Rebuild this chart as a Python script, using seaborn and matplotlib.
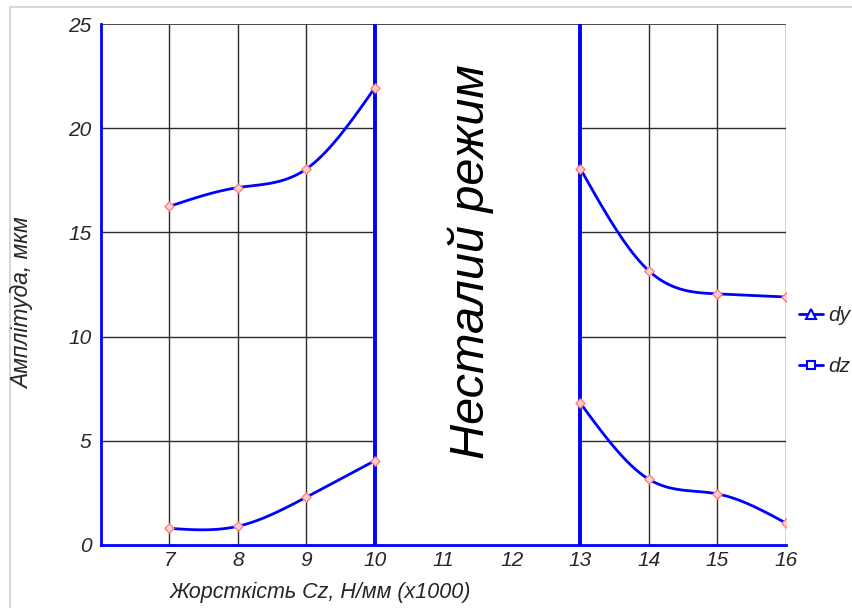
import numpy as np
import pandas as pd
import matplotlib
matplotlib.use("Agg")
import matplotlib.pyplot as plt
from matplotlib.lines import Line2D
from matplotlib.patches import Rectangle
import seaborn as sns

# ---- data ----
x_left = [7, 8, 9, 10]
x_right = [13, 14, 15, 16]
dy_left = [16.25, 17.15, 18.05, 21.95]
dy_right = [18.05, 13.15, 12.05, 11.9]
dz_left = [0.8, 0.9, 2.3, 4.05]
dz_right = [6.8, 3.15, 2.45, 1.05]
x_ticks = [7, 8, 9, 10, 11, 12, 13, 14, 15, 16]
y_ticks = [0, 5, 10, 15, 20, 25]
unstable_text = "Несталий режим"
x_label = "Жорсткість Cz, Н/мм (x1000)"
y_label = "Амплітуда, мкм"


def natural_spline(xs, ys, n=120):
    xs = np.asarray(xs, float)
    ys = np.asarray(ys, float)
    k = len(xs)
    h = np.diff(xs)
    A = np.zeros((k, k))
    b = np.zeros(k)
    A[0, 0] = A[-1, -1] = 1
    for i in range(1, k - 1):
        A[i, i - 1] = h[i - 1]
        A[i, i] = 2 * (h[i - 1] + h[i])
        A[i, i + 1] = h[i]
        b[i] = 6 * ((ys[i + 1] - ys[i]) / h[i] - (ys[i] - ys[i - 1]) / h[i - 1])
    M = np.linalg.solve(A, b)
    xx = np.linspace(xs[0], xs[-1], n)
    idx = np.clip(np.searchsorted(xs, xx) - 1, 0, k - 2)
    x0, x1 = xs[idx], xs[idx + 1]
    hh = x1 - x0
    t0, t1 = x1 - xx, xx - x0
    yy = (M[idx] * t0**3 / (6 * hh) + M[idx + 1] * t1**3 / (6 * hh)
          + (ys[idx] / hh - M[idx] * hh / 6) * t0
          + (ys[idx + 1] / hh - M[idx + 1] * hh / 6) * t1)
    return xx, yy


sns.set_style("white")
plt.rcParams["font.family"] = ["Liberation Sans", "DejaVu Sans"]

fig = plt.figure(figsize=(8.53, 6.08), dpi=100)
ax = fig.add_axes([101 / 853, 1 - 545 / 608, (786 - 101) / 853, (545 - 24) / 608])

blue = "#0000ff"
grid_c = "#2b2b2b"

# grid only in the stable regions
for y in [5, 10, 15, 20]:
    ax.hlines(y, 6, 10, color=grid_c, lw=1.0, zorder=1)
    ax.hlines(y, 13, 16, color=grid_c, lw=1.0, zorder=1)
ax.hlines(25, 6, 16, color=grid_c, lw=1.2, zorder=1)
for x in [7, 8, 9, 14, 15, 16]:
    ax.vlines(x, 0, 25, color=grid_c, lw=1.0, zorder=1)

# boundaries of the unstable region
ax.vlines([10, 13], 0, 25, color=blue, lw=2.8, zorder=3)

# curves
segments = [(x_left, dy_left), (x_right, dy_right), (x_left, dz_left), (x_right, dz_right)]
for xs, ys in segments:
    xx, yy = natural_spline(xs, ys)
    sns.lineplot(x=xx, y=yy, ax=ax, color=blue, lw=2.0, zorder=4, sort=False)
    sns.scatterplot(x=xs, y=ys, ax=ax, marker="D", s=22, facecolor="#ffd0d0",
                    edgecolor="#ff8080", linewidth=1.0, zorder=5)

ax.text(11.4, 13.6, unstable_text, rotation=90, ha="center", va="center",
        fontsize=35, style="italic", color="black", zorder=6)

ax.set_xlim(6, 16)
ax.set_ylim(0, 25)
ax.set_xticks(x_ticks)
ax.set_yticks(y_ticks)
ax.set_xticklabels([str(t) for t in x_ticks], fontsize=15, style="italic")
ax.set_yticklabels([str(t) for t in y_ticks], fontsize=15, style="italic")
ax.tick_params(axis="x", length=0, pad=4)
ax.tick_params(axis="y", length=0, pad=7)

for s in ["top", "right"]:
    ax.spines[s].set_visible(False)
ax.spines["left"].set_color(blue)
ax.spines["bottom"].set_color(blue)
ax.spines["left"].set_linewidth(2.0)
ax.spines["bottom"].set_linewidth(2.0)

ax.set_xlabel("")
ax.set_ylabel("")
fig.text(170 / 853, 1 - 592 / 608, x_label, ha="left", va="center",
         fontsize=15.5, style="italic")
fig.text(23 / 853, 1 - 303 / 608, y_label, ha="center", va="center",
         rotation=90, fontsize=16.5, style="italic")

handles = [
    Line2D([0], [0], color=blue, lw=2, marker="^", markersize=7,
           markerfacecolor="white", markeredgecolor=blue, markeredgewidth=1.5),
    Line2D([0], [0], color=blue, lw=2, marker="s", markersize=6,
           markerfacecolor="white", markeredgecolor=blue, markeredgewidth=1.5),
]
leg = fig.legend(handles, ["dy", "dz"], loc="center left",
                 bbox_to_anchor=(799 / 853, 1 - 341 / 608), frameon=False,
                 borderpad=0, borderaxespad=0,
                 handlelength=1.15, handletextpad=0.25, labelspacing=1.55,
                 prop={"size": 15, "style": "italic"})

fig.patches.append(Rectangle((10 / 853, -0.02), 1.0, 1 - 7 / 608 + 0.02,
                             transform=fig.transFigure, fill=False,
                             edgecolor="#d0d0d0", lw=1.2, zorder=0))

fig.savefig("out.png", dpi=100)
